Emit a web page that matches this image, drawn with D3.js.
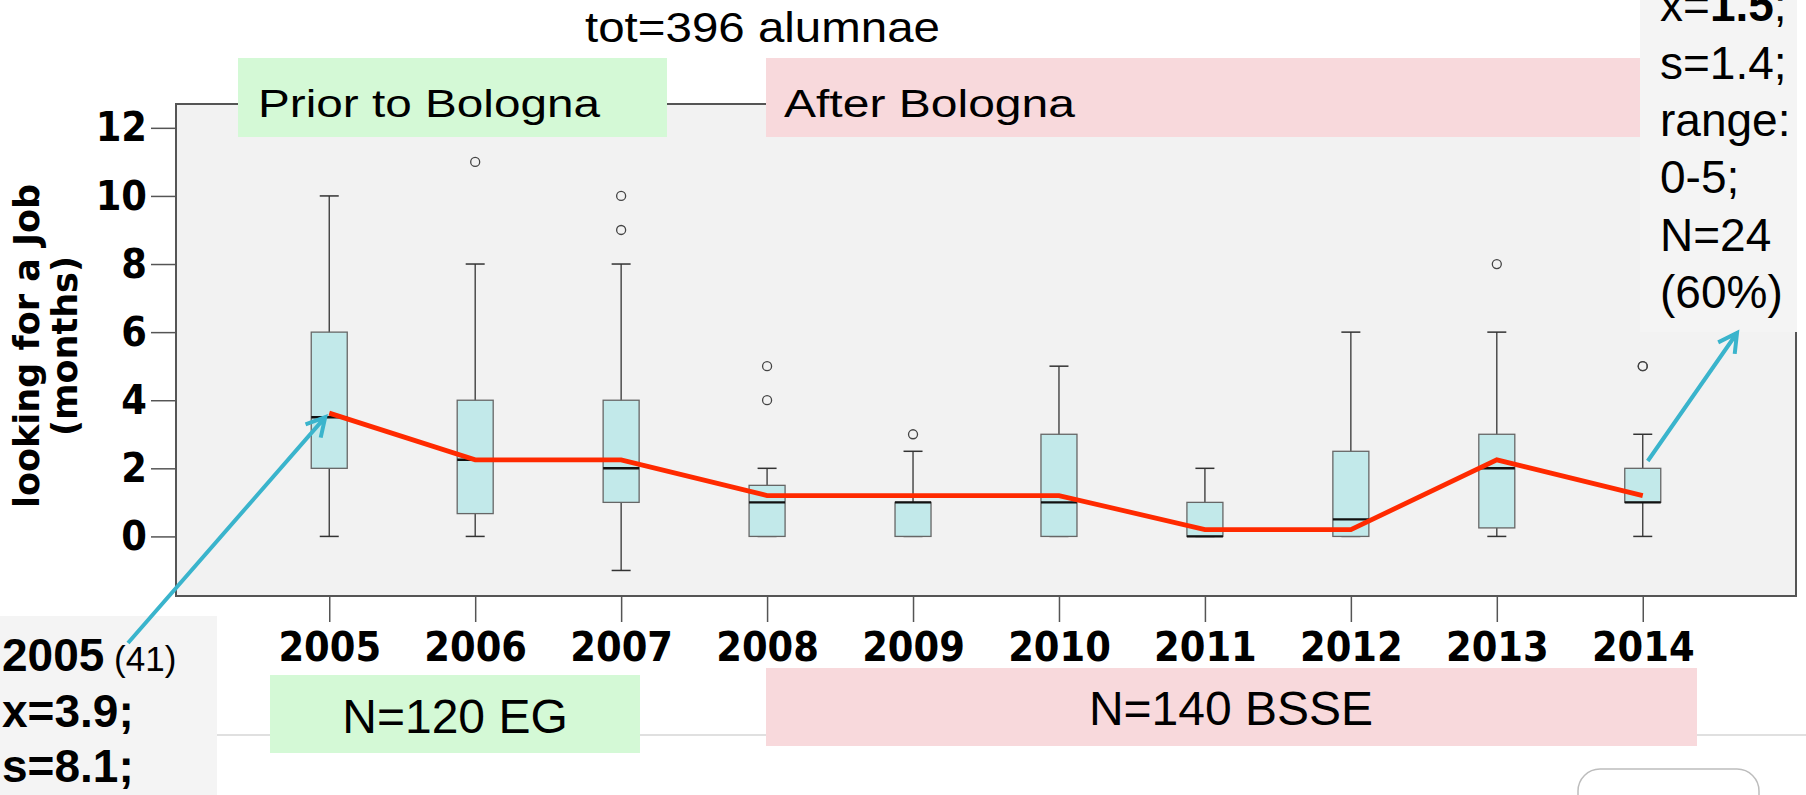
<!DOCTYPE html>
<html>
<head>
<meta charset="utf-8">
<script src="https://cdn.jsdelivr.net/npm/d3@7"></script>
<style>
  html, body { margin: 0; padding: 0; background: #fff; overflow: hidden; }
  svg { display: block; }
  .arial { font-family: "Liberation Sans", Arial, sans-serif; fill: #000; }
  .tick text { font-family: "DejaVu Sans Condensed", "DejaVu Sans", sans-serif; font-stretch: condensed; font-weight: bold; font-size: 41px; fill: #000; }
  .tick line { stroke: #555; stroke-width: 1.5; }
</style>
</head>
<body>
<svg id="chart" width="1806" height="795"></svg>
<script>
// boxplot per graduation year (months looking for a job)
const years = ["2005", "2006", "2007", "2008", "2009", "2010", "2011", "2012", "2013", "2014"];
const whiskerLow = [0, 0, -1, 0, 0, 0, 0, 0, 0, 0];
const q1 = [2, 0.67, 1, 0, 0, 0, 0, 0, 0.25, 1];
const median = [3.5, 2.25, 2, 1, 1, 1, 0, 0.5, 2, 1];
const q3 = [6, 4, 4, 1.5, 1, 3, 1, 2.5, 3, 2];
const whiskerHigh = [10, 8, 8, 2, 2.5, 5, 2, 6, 6, 3];
const outliers = [[], [11], [9, 10], [4, 5], [3], [], [], [], [8], [5, 5]];
// red line = yearly mean
const means = [3.62, 2.25, 2.25, 1.2, 1.2, 1.2, 0.2, 0.2, 2.25, 1.2];
const yTicks = [0, 2, 4, 6, 8, 10, 12];

const svg = d3.select("#chart");
const plot = { left: 176, top: 104, right: 1796, bottom: 596 };

const x = d3.scalePoint().domain(years).range([plot.left, plot.right]).padding(1.05);
const y = d3.scaleLinear().domain([-1.75, 12.7]).range([plot.bottom, plot.top]);

// thin page separator line behind everything
svg.append("line")
  .attr("x1", 0).attr("x2", 1806).attr("y1", 735).attr("y2", 735)
  .attr("stroke", "#d6d6d6").attr("stroke-width", 1.5);

// rounded button outline at the bottom right
svg.append("rect")
  .attr("x", 1578).attr("y", 769).attr("width", 181).attr("height", 70).attr("rx", 22)
  .attr("fill", "#fff").attr("stroke", "#bdbdbd").attr("stroke-width", 1.5);

// plot frame
svg.append("rect")
  .attr("x", plot.left).attr("y", plot.top)
  .attr("width", plot.right - plot.left).attr("height", plot.bottom - plot.top)
  .attr("fill", "#f2f2f2").attr("stroke", "#555").attr("stroke-width", 2);

// axes
const yAxis = svg.append("g")
  .attr("transform", `translate(${plot.left},0)`)
  .call(d3.axisLeft(y).tickValues(yTicks).tickSize(25).tickPadding(4));
yAxis.select(".domain").remove();

const xAxis = svg.append("g")
  .attr("transform", `translate(0,${plot.bottom})`)
  .call(d3.axisBottom(x).tickSize(26).tickPadding(10));
xAxis.select(".domain").remove();

// y axis title
const yTitle = svg.append("g")
  .attr("transform", "translate(39,346) rotate(-90)")
  .style("font-family", "'DejaVu Sans', sans-serif")
  .style("font-weight", "bold")
  .style("font-size", "35px");
yTitle.append("text").attr("text-anchor", "middle").text("looking for a Job");
yTitle.append("text").attr("text-anchor", "middle").attr("y", 38).text("(months)");

// boxes
const boxW = 36, capW = 19;
const boxes = svg.append("g").selectAll("g")
  .data(years.map((yr, i) => ({ yr, i })))
  .join("g")
  .attr("transform", (d) => `translate(${x(d.yr)},0)`);

boxes.append("line")
  .attr("y1", (d) => y(whiskerLow[d.i])).attr("y2", (d) => y(whiskerHigh[d.i]))
  .attr("stroke", "#333").attr("stroke-width", 1.3);
boxes.append("line")
  .attr("x1", -capW / 2).attr("x2", capW / 2)
  .attr("y1", (d) => y(whiskerHigh[d.i])).attr("y2", (d) => y(whiskerHigh[d.i]))
  .attr("stroke", "#333").attr("stroke-width", 1.5);
boxes.append("line")
  .attr("x1", -capW / 2).attr("x2", capW / 2)
  .attr("y1", (d) => y(whiskerLow[d.i])).attr("y2", (d) => y(whiskerLow[d.i]))
  .attr("stroke", "#333").attr("stroke-width", 1.5);
boxes.append("rect")
  .attr("x", -boxW / 2).attr("width", boxW)
  .attr("y", (d) => y(q3[d.i]))
  .attr("height", (d) => Math.max(1, y(q1[d.i]) - y(q3[d.i])))
  .attr("fill", "#c2e9ea").attr("stroke", "#666").attr("stroke-width", 1.3);
boxes.append("line")
  .attr("x1", -boxW / 2).attr("x2", boxW / 2)
  .attr("y1", (d) => y(median[d.i])).attr("y2", (d) => y(median[d.i]))
  .attr("stroke", "#111").attr("stroke-width", 2.4);
boxes.selectAll("circle")
  .data((d) => outliers[d.i])
  .join("circle")
  .attr("cy", (v) => y(v)).attr("r", 4.5)
  .attr("fill", "none").attr("stroke", "#444").attr("stroke-width", 1.3);

// mean line
svg.append("path")
  .datum(means)
  .attr("fill", "none").attr("stroke", "#ff2a00").attr("stroke-width", 4.8)
  .attr("d", d3.line().x((d, i) => x(years[i])).y((d) => y(d)));

// header boxes
function labelBox(bx, by, bw, bh, color) {
  svg.append("rect").attr("x", bx).attr("y", by).attr("width", bw).attr("height", bh).attr("fill", color);
}
labelBox(238, 58, 429, 79, "#d4f9d6");
labelBox(766, 58, 874, 79, "#f8d9dc");
labelBox(270, 675, 370, 78, "#d4f9d6");
labelBox(766, 668, 931, 78, "#f8d9dc");

svg.append("text").attr("class", "arial").attr("x", 585).attr("y", 42)
  .style("font-size", "43px").attr("textLength", 355).attr("lengthAdjust", "spacingAndGlyphs")
  .text("tot=396 alumnae");
svg.append("text").attr("class", "arial").attr("x", 258).attr("y", 117)
  .style("font-size", "38px").attr("textLength", 342).attr("lengthAdjust", "spacingAndGlyphs")
  .text("Prior to Bologna");
svg.append("text").attr("class", "arial").attr("x", 784).attr("y", 117)
  .style("font-size", "38px").attr("textLength", 291).attr("lengthAdjust", "spacingAndGlyphs")
  .text("After Bologna");
svg.append("text").attr("class", "arial").attr("x", 455).attr("y", 733)
  .attr("text-anchor", "middle").style("font-size", "48px").text("N=120 EG");
svg.append("text").attr("class", "arial").attr("x", 1231).attr("y", 725)
  .attr("text-anchor", "middle").style("font-size", "48px").text("N=140 BSSE");

// annotation boxes
svg.append("rect").attr("x", 0).attr("y", 616).attr("width", 217).attr("height", 200).attr("fill", "#f4f4f4");
svg.append("rect").attr("x", 1640).attr("y", -10).attr("width", 157).attr("height", 342).attr("fill", "#f4f4f4");

const leftNote = svg.append("g").attr("class", "arial").style("font-size", "46px").style("font-weight", "bold");
const l1 = leftNote.append("text").attr("x", 2).attr("y", 671);
l1.append("tspan").text("2005");
l1.append("tspan").style("font-weight", "normal").style("font-size", "35px").text(" (41)");
leftNote.append("text").attr("x", 2).attr("y", 727).text("x=3.9;");
leftNote.append("text").attr("x", 2).attr("y", 782).text("s=8.1;");

const rightLines = ["s=1.4;", "range:", "0-5;", "N=24", "(60%)"];
const rightNote = svg.append("g").attr("class", "arial").style("font-size", "46px");
const r1 = rightNote.append("text").attr("x", 1660).attr("y", 21);
r1.append("tspan").text("x=");
r1.append("tspan").style("font-weight", "bold").text("1.5");
r1.append("tspan").text(";");
rightNote.selectAll("text.line")
  .data(rightLines)
  .join("text")
  .attr("class", "line")
  .attr("x", 1660)
  .attr("y", (d, i) => 79 + i * 57.2)
  .text((d) => d);

// arrows
function arrow(x1, y1, x2, y2) {
  const a = Math.atan2(y2 - y1, x2 - x1), L = 21, s = 0.5;
  const p1 = [x2 - L * Math.cos(a - s), y2 - L * Math.sin(a - s)];
  const p2 = [x2 - L * Math.cos(a + s), y2 - L * Math.sin(a + s)];
  svg.append("path")
    .attr("d", `M${x1},${y1}L${x2},${y2}M${p1[0]},${p1[1]}L${x2},${y2}L${p2[0]},${p2[1]}`)
    .attr("fill", "none").attr("stroke", "#3ab4cc").attr("stroke-width", 4)
    .attr("stroke-linecap", "butt");
}
arrow(128, 643, x("2005") - 4, y(means[0]) + 4);
arrow(x("2014") + 5, 461, 1737, 333);
</script>
</body>
</html>
